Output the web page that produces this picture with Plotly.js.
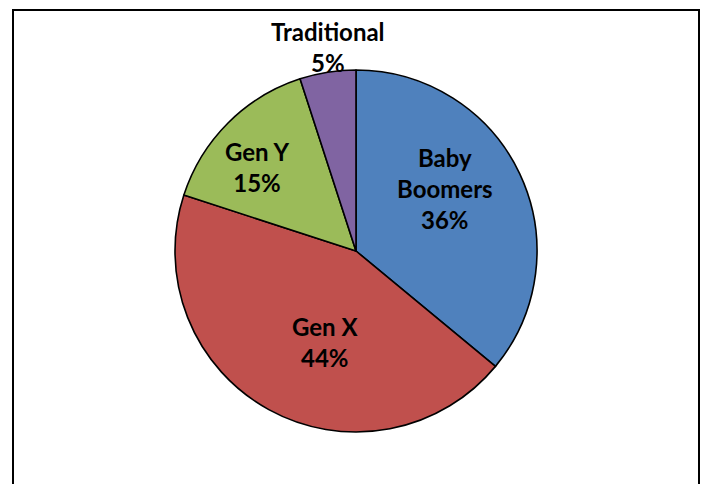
<!DOCTYPE html>
<html>
<head>
<meta charset="utf-8">
<script src="https://cdn.plot.ly/plotly-3.0.1.min.js"></script>
<style>
  html, body { margin: 0; padding: 0; background: #fff; }
  #wrap { position: relative; width: 701px; height: 484px; overflow: hidden; }
  #chart { width: 701px; height: 484px; }
  #frame {
    position: absolute; left: 12px; top: 9px; width: 684px; height: 520px;
    border: 2px solid #000; pointer-events: none;
  }
</style>
</head>
<body>
<div id="wrap">
  <div id="chart"></div>
  <div id="frame"></div>
</div>
<script>
// Workforce share by generation
const categories = ['Baby Boomers', 'Gen X', 'Gen Y', 'Traditional'];
const displayLabels = ['Baby<br>Boomers', 'Gen X', 'Gen Y', 'Traditional'];
const shares = [36, 44, 15, 5];
const sliceColors = ['#4F81BD', '#C0504D', '#9BBB59', '#8064A2'];

// Label placement, per slice: distance from the centre (in pie radii)
// and a small turn (degrees) away from the slice bisector.
const labelRadius = [0.60, 0.53, 0.72, 1.14];
const labelTurn = [-10, -10, -4.6, 1.2];

const labelFont = { family: 'Lato, "Open Sans", sans-serif', size: 24, color: '#000', weight: 'bold' };

const total = shares.reduce((a, b) => a + b, 0);
let running = 0;
const annotations = shares.map((v, i) => {
  const mid = (running + v / 2) / total;       // fraction of the turn, clockwise from 12 o'clock
  running += v;
  const theta = (mid * 360 + labelTurn[i]) * Math.PI / 180;
  return {
    xref: 'paper', yref: 'paper',
    x: 0.5 + 0.5 * labelRadius[i] * Math.sin(theta),
    y: 0.5 + 0.5 * labelRadius[i] * Math.cos(theta),
    xanchor: 'center', yanchor: 'middle',
    text: displayLabels[i] + '<br>' + v + '%',
    showarrow: false,
    font: labelFont
  };
});

const trace = {
  type: 'pie',
  labels: categories,
  values: shares,
  textinfo: 'none',
  hovertemplate: '%{label}: %{value}%<extra></extra>',
  sort: false,
  direction: 'clockwise',
  rotation: 0,
  marker: { colors: sliceColors, line: { color: '#000', width: 1.6 } },
  showlegend: false
};

const layout = {
  width: 701,
  height: 484,
  margin: { l: 175, r: 164, t: 70, b: 52 },
  paper_bgcolor: '#fff',
  showlegend: false,
  annotations: annotations
};

Plotly.newPlot('chart', [trace], layout, { displayModeBar: false, staticPlot: true });
</script>
</body>
</html>
